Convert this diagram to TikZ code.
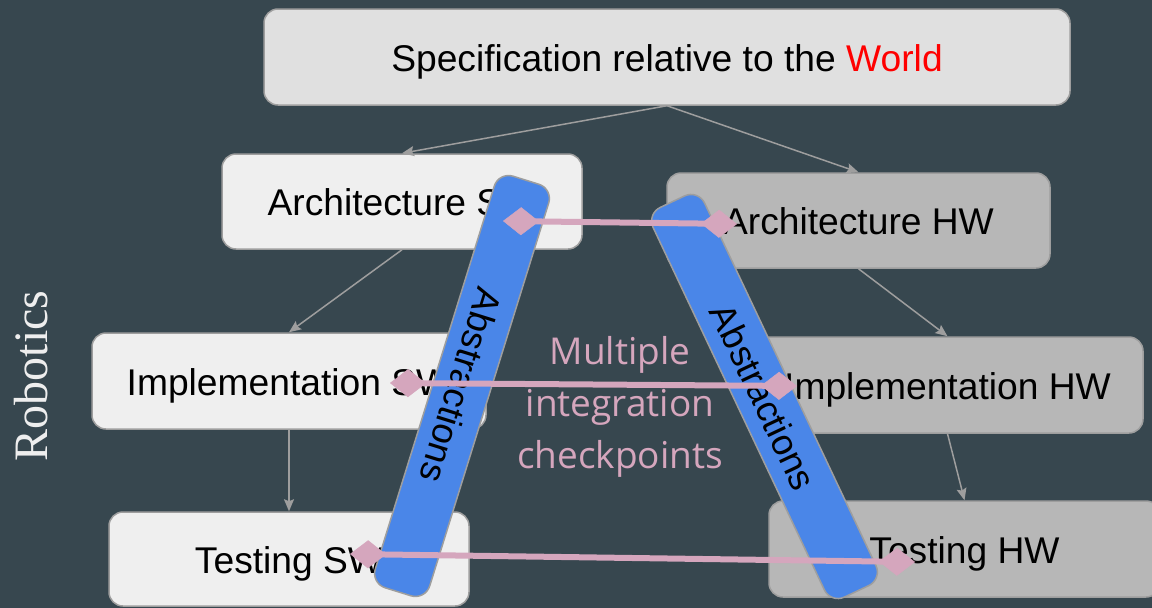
\documentclass[tikz,border=0pt]{standalone}
\usepackage{fontspec}
\setmainfont{Liberation Sans}
\newfontfamily\opensansfam{Open Sans}
\newfontfamily\seriffam{Liberation Serif}
\usetikzlibrary{arrows.meta}
\definecolor{bgc}{HTML}{37474F}
\definecolor{boxlight}{HTML}{EFEFEF}
\definecolor{boxspec}{HTML}{E0E0E0}
\definecolor{boxdark}{HTML}{B7B7B7}
\definecolor{edgegray}{HTML}{9E9E9E}
\definecolor{barblue}{HTML}{4A86E8}
\definecolor{pinkc}{HTML}{D5A6BD}
\definecolor{worldred}{HTML}{FF0000}
\definecolor{labelwhite}{HTML}{EEEEEE}
\begin{document}
\begin{tikzpicture}[x=1pt,y=-1pt,
 box/.style={draw=edgegray, line width=1.5pt, rounded corners=14pt, inner sep=0pt, text height=28.5pt, text depth=0pt, font=\fontsize{37.2}{44}\selectfont, text=black},
 lightbox/.style={box, fill=boxlight},
 darkbox/.style={box, fill=boxdark},
 flow/.style={draw=edgegray, line width=1.5pt, -{Stealth[length=12pt,width=10pt,inset=2pt]}},
 bar/.style={draw=edgegray, line width=1.5pt, fill=barblue, rounded corners=15pt, minimum width=431pt, minimum height=57pt, inner sep=0pt, text height=28pt, text depth=0pt, font=\fontsize{36.5}{44}\selectfont, text=black},
 link/.style={draw=pinkc, line width=6pt, {Diamond[length=36pt,width=28pt,line width=0.5pt]}-{Diamond[length=36pt,width=28pt,line width=0.5pt]}},
]
\useasboundingbox (0,0) rectangle (1152,608);
\clip (0,0) rectangle (1152,608);
\fill[bgc] (0,0) rectangle (1152,608);

% boxes
\node[box, fill=boxspec, minimum width=806pt, minimum height=96pt] (spec) at (667,57) {Specification relative to the \textcolor{worldred}{World}};
\node[lightbox, minimum width=360pt, minimum height=95pt] (archsw) at (402,201.5) {Architecture SW};
\node[darkbox, minimum width=383pt, minimum height=95pt] (archhw) at (858.5,220.5) {Architecture HW};
\node[lightbox, minimum width=394pt, minimum height=96pt] (implsw) at (289,381) {Implementation SW};
\node[darkbox, minimum width=391pt, minimum height=96pt] (implhw) at (947.5,385) {Implementation HW};
\node[lightbox, minimum width=360pt, minimum height=94pt] (testsw) at (289,559) {Testing SW};
\node[darkbox, minimum width=391pt, minimum height=96pt] (testhw) at (964.5,549) {Testing HW};

% flow arrows
\draw[flow] (spec.south) -- (archsw.north);
\draw[flow] (spec.south) -- (archhw.north);
\draw[flow] (archsw.south) -- (implsw.north);
\draw[flow] (archhw.south) -- (implhw.north);
\draw[flow] (implsw.south) -- (testsw.north);
\draw[flow] (implhw.south) -- (testhw.north);

% abstraction bars
\node[bar, rotate=-107.26] (absl) at (462,386) {Abstractions};
\node[bar, rotate=-64.7] (absr) at (764.5,396.5) {Abstractions};

% integration links
\coordinate (l1a) at (503,221);
\coordinate (l1b) at (737,224);
\coordinate (l2a) at (390,383);
\coordinate (l2b) at (797,386);
\coordinate (l3a) at (350,554);
\coordinate (l3b) at (915,562);
\draw[link] (l1a) -- (l1b);
\draw[link] (l2a) -- (l2b);
\draw[link] (l3a) -- (l3b);

% labels
\node[text=pinkc, font=\opensansfam\fontsize{37}{52}\selectfont, align=center] (multi) at (620,407) {Multiple\\integration\\checkpoints};
\node[text=labelwhite, font=\seriffam\fontsize{48}{52}\selectfont, rotate=90] (robo) at (31,376) {Robotics};
\end{tikzpicture}
\end{document}
